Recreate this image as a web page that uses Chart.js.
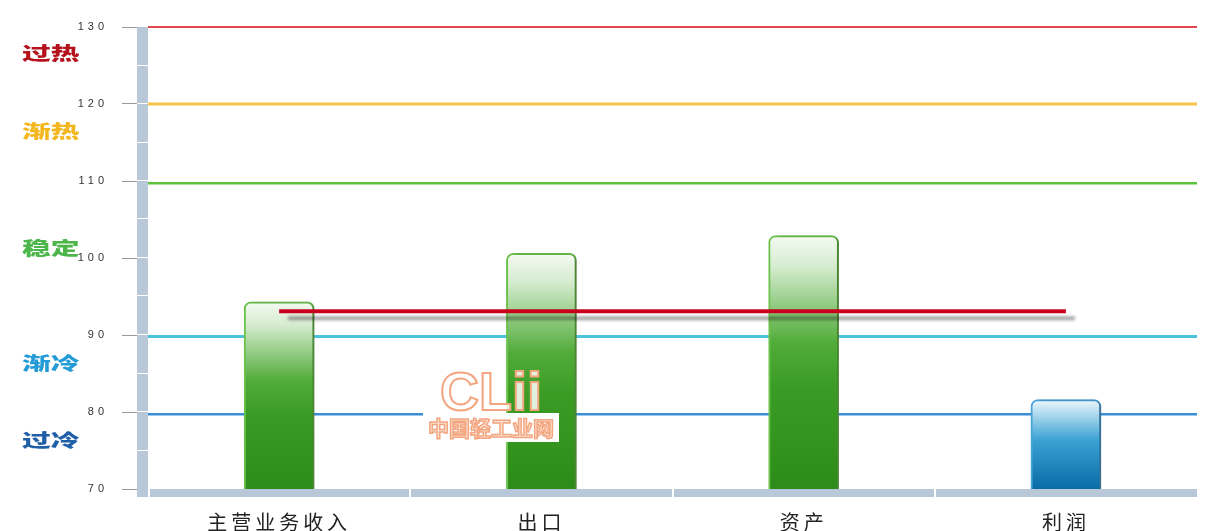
<!DOCTYPE html>
<html>
<head>
<meta charset="utf-8">
<script src="https://cdn.jsdelivr.net/npm/chart.js@4/dist/chart.umd.min.js"></script>
<style>
    html, body { margin: 0; padding: 0; background: #fff; }
</style>
</head>
<body>
<canvas id="chart" width="1211" height="531"></canvas>
<script>
// 類別與數值
const categories = ['主营业务收入', '出口', '资产', '利润'];
const values = [94.3, 100.6, 102.9, 81.6];
const average = [93.1, 93.1, 93.1, 93.1];

// 景氣區間線
const thresholdValues = [130, 120, 109.7, 89.8, 79.7];
const thresholdColors = ['#e0474c', '#f6c445', '#5cc23a', '#4cc3dc', '#3a8ed6'];
const thresholdWidths = [2, 3, 2.5, 3, 2.5];

// 左側區間文字
const zoneLabels = ['过热', '渐热', '稳定', '渐冷', '过冷'];
const zoneLabelValues = [126.6, 116.5, 101.3, 86.4, 76.4];
const zoneColors = ['#b5121b', '#f2b61e', '#4cb64a', '#239bd6', '#1f5fa8'];

const yMin = 70;
const yMax = 130;
const yStep = 10;

// 柱子漸層：低於 90 用藍色，其他用綠色
function barFill(context) {
    const chart = context.chart;
    const yScale = chart.scales.y;
    if (!chart.chartArea || !yScale) return '#3a9a22';
    const v = context.raw;
    const top = yScale.getPixelForValue(v);
    const bottom = yScale.getPixelForValue(yMin);
    const g = chart.ctx.createLinearGradient(0, top, 0, bottom);
    if (v < 90) {
        g.addColorStop(0, '#eef8fd');
        g.addColorStop(0.45, '#3aa2d4');
        g.addColorStop(1, '#0a6ca6');
    } else {
        g.addColorStop(0, '#f4faf2');
        g.addColorStop(0.12, '#d6ecd0');
        g.addColorStop(0.42, '#52ac3a');
        g.addColorStop(0.6, '#3a9c24');
        g.addColorStop(1, '#2d8c19');
    }
    return g;
}

function barBorder(context) {
    return context.raw < 90 ? '#4aa4dc' : '#6cc44c';
}

// 裝飾：區間線、座標軸色帶、左側文字、浮水印
const decorPlugin = {
    id: 'decor',
    beforeDraw(chart) {
        chart.ctx.letterSpacing = '4px';
    },
    beforeDatasetsDraw(chart) {
        const ctx = chart.ctx;
        const area = chart.chartArea;
        const y = chart.scales.y;
        ctx.save();
        ctx.letterSpacing = '0px';

        // 區間線
        thresholdValues.forEach((v, i) => {
            const py = y.getPixelForValue(v);
            ctx.beginPath();
            ctx.strokeStyle = thresholdColors[i];
            ctx.lineWidth = thresholdWidths[i];
            ctx.moveTo(area.left, py);
            ctx.lineTo(area.right, py);
            ctx.stroke();
        });

        // 左側灰藍色軸
        const axisColor = '#b8c8d8';
        const bottomPx = y.getPixelForValue(yMin);
        ctx.fillStyle = axisColor;
        ctx.fillRect(area.left - 11, y.getPixelForValue(yMax), 11, bottomPx - y.getPixelForValue(yMax) + 8);
        ctx.fillStyle = '#ffffff';
        for (let v = yMin + 5; v < yMax; v += 5) {
            ctx.fillRect(area.left - 11, Math.round(y.getPixelForValue(v)) - 1, 11, 1);
        }

        // 底部色帶
        ctx.fillStyle = axisColor;
        ctx.fillRect(area.left + 2, bottomPx, area.right - area.left - 2, 8);
        ctx.fillStyle = '#ffffff';
        const step = (area.right - area.left) / categories.length;
        for (let i = 1; i < categories.length; i++) {
            ctx.fillRect(Math.round(area.left + step * i) - 1, bottomPx, 2, 8);
        }

        // 左側區間文字
        ctx.font = '900 18px "Noto Sans CJK SC"';
        ctx.textBaseline = 'middle';
        ctx.textAlign = 'left';
        zoneLabels.forEach((t, i) => {
            const py = y.getPixelForValue(zoneLabelValues[i]);
            ctx.save();
            ctx.translate(22, py);
            ctx.scale(1.6, 1);
            ctx.fillStyle = zoneColors[i];
            ctx.fillText(t, 0, 0);
            ctx.restore();
        });
        ctx.restore();
    },
    beforeDatasetDraw(chart, args) {
        const ctx = chart.ctx;
        ctx.save();
        if (args.meta.type === 'bar') {
            ctx.shadowColor = 'rgba(0,0,0,0.35)';
            ctx.shadowBlur = 5;
            ctx.shadowOffsetX = 4;
            ctx.shadowOffsetY = 1;
        } else {
            ctx.shadowColor = 'rgba(0,0,0,0.35)';
            ctx.shadowBlur = 3;
            ctx.shadowOffsetX = 9;
            ctx.shadowOffsetY = 7;
        }
    },
    afterDatasetDraw(chart) {
        chart.ctx.restore();
    },
    afterDatasetsDraw(chart) {
        // 浮水印
        const ctx = chart.ctx;
        ctx.save();
        ctx.letterSpacing = '0px';
        ctx.fillStyle = '#ffffff';
        ctx.fillRect(423, 413, 136, 29);
        ctx.textAlign = 'center';
        ctx.textBaseline = 'alphabetic';
        ctx.font = 'bold 54px "Liberation Sans"';
        ctx.lineWidth = 2;
        ctx.strokeStyle = '#f3a57f';
        ctx.fillStyle = 'rgba(255,255,255,0.85)';
        ctx.fillText('CLii', 491, 410);
        ctx.strokeText('CLii', 491, 410);
        ctx.font = 'bold 21px "Noto Sans CJK SC"';
        ctx.lineWidth = 1.5;
        ctx.fillStyle = '#fbe3d6';
        ctx.fillText('中国轻工业网', 491, 436);
        ctx.strokeText('中国轻工业网', 491, 436);
        ctx.restore();
    }
};

const ctx = document.getElementById('chart').getContext('2d');
new Chart(ctx, {
    type: 'bar',
    data: {
        labels: categories,
        datasets: [
            {
                type: 'line',
                data: average,
                borderColor: '#c8001e',
                borderWidth: 4,
                pointRadius: 0,
                fill: false,
                order: 0
            },
            {
                type: 'bar',
                data: values,
                backgroundColor: barFill,
                borderColor: barBorder,
                borderWidth: 2,
                borderRadius: { topLeft: 7, topRight: 7, bottomLeft: 0, bottomRight: 0 },
                borderSkipped: 'bottom',
                barThickness: 70,
                order: 1
            }
        ]
    },
    options: {
        responsive: false,
        devicePixelRatio: 1,
        animation: false,
        layout: {
            padding: { top: 27, right: 14, left: 0, bottom: 0 }
        },
        plugins: {
            legend: { display: false },
            tooltip: { enabled: false }
        },
        scales: {
            x: {
                grid: { display: false, drawTicks: false },
                border: { display: false },
                ticks: {
                    color: '#222',
                    padding: 21,
                    font: { family: '"Noto Sans CJK SC"', size: 20 }
                },
                afterFit: function(scale) {
                    scale.height = 42;
                }
            },
            y: {
                min: yMin,
                max: yMax,
                grid: {
                    drawOnChartArea: false,
                    tickLength: 26,
                    color: '#9a9a9a'
                },
                border: { display: false },
                ticks: {
                    stepSize: yStep,
                    color: '#333',
                    padding: 14,
                    font: { family: '"Liberation Sans"', size: 11 }
                },
                afterFit: function(scale) {
                    scale.width = 148;
                }
            }
        }
    },
    plugins: [decorPlugin]
});
</script>
</body>
</html>
